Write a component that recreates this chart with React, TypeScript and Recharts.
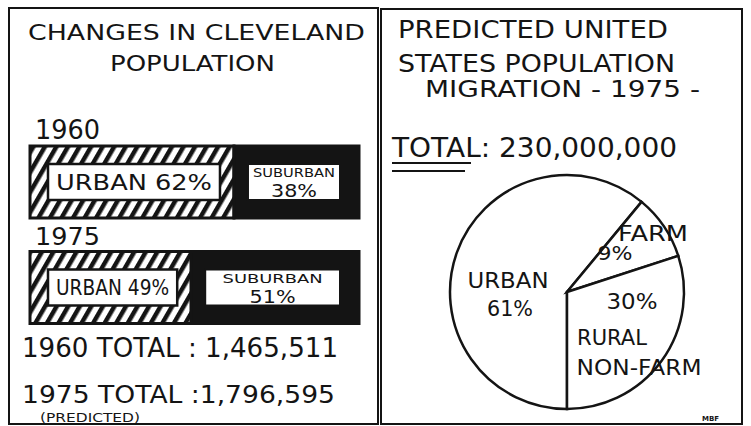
import { BarChart, Bar, XAxis, YAxis, LabelList, PieChart, Pie } from "recharts";

// Cleveland, share of population by area (%)
const years = ["1960", "1975"];
const urbanShare = [62, 49];
const suburbanShare = [38, 51];
const cityTotals = ["1,465,511", "1,796,595"];

// United States, predicted 1975 (%)
const usGroups = ["URBAN", "FARM", "RURAL NON-FARM"];
const usShares = [61, 9, 30];
const usTotal = "230,000,000";

const barData = years.map((year, i) => ({
  year,
  urban: urbanShare[i],
  suburban: suburbanShare[i],
}));
const pieData = usGroups.map((name, i) => ({ name, value: usShares[i] }));

const FONT = "'DejaVu Sans', sans-serif";
const INK = "#141414";

function UrbanLabel(props: any) {
  const { x, y, width, height, value } = props;
  const i = years.indexOf(String(value));
  const bx = x + 18;
  const by = y + 18;
  const bw = width - 32;
  const bh = height - 36;
  return (
    <g>
      <text x={x + 5} y={y - 7} fontSize={i === 0 ? 27 : 25} fontFamily={FONT} fill={INK}
        textLength={65} lengthAdjust="spacingAndGlyphs">
        {years[i]}
      </text>
      <rect x={bx} y={by} width={bw} height={bh} fill="#fff" stroke={INK} strokeWidth={2.5} />
      <text x={bx + bw / 2} y={by + bh / 2 + 7.5} textAnchor="middle" fontSize={21}
        fontFamily={FONT} fill={INK} textLength={bw - 16} lengthAdjust="spacingAndGlyphs">
        {`URBAN ${urbanShare[i]}%`}
      </text>
    </g>
  );
}

function SuburbanLabel(props: any) {
  const { x, y, width, height, value } = props;
  const i = years.indexOf(String(value));
  const bx = x + 14;
  const by = y + 18;
  const bw = width - 33;
  const bh = height - 36;
  return (
    <g>
      <rect x={bx} y={by} width={bw} height={bh} fill="#fff" stroke={INK} strokeWidth={2} />
      <text x={bx + bw / 2} y={by + 13} textAnchor="middle" fontSize={13} fontFamily={FONT}
        fill={INK} textLength={Math.min(bw - 10, 100)} lengthAdjust="spacingAndGlyphs">
        SUBURBAN
      </text>
      <text x={bx + bw / 2} y={by + bh - 3} textAnchor="middle" fontSize={18} fontFamily={FONT}
        fill={INK} textLength={46} lengthAdjust="spacingAndGlyphs">
        {`${suburbanShare[i]}%`}
      </text>
    </g>
  );
}

// label placement inside each slice, relative to the pie centre
const sliceText: Record<string, { dx: number; dy: number; size: number; len: number }[]> = {
  URBAN: [
    { dx: -59, dy: -12, size: 22, len: 81 },
    { dx: -57, dy: 16, size: 22, len: 46 },
  ],
  FARM: [
    { dx: 86, dy: -59, size: 21, len: 70 },
    { dx: 48, dy: -39, size: 20, len: 35 },
  ],
  "RURAL NON-FARM": [
    { dx: 65, dy: 9, size: 22, len: 51 },
    { dx: 45, dy: 45, size: 21, len: 70 },
    { dx: 72, dy: 75, size: 21, len: 125 },
  ],
};

function PieLabel(props: any) {
  const { cx, cy, name, value } = props;
  const parts = String(name).split(" ");
  const lines = parts.length > 1 ? [`${value}%`, ...parts] : [parts[0], `${value}%`];
  const place = sliceText[name] || [];
  return (
    <g>
      {lines.map((t, k) => {
        const p = place[k];
        if (!p) return null;
        return (
          <text key={k} x={cx + p.dx} y={cy + p.dy + p.size * 0.365} textAnchor="middle"
            fontSize={p.size} fontFamily={FONT} fill={INK} textLength={p.len}
            lengthAdjust="spacingAndGlyphs">
            {t}
          </text>
        );
      })}
    </g>
  );
}

const layer: React.CSSProperties = { position: "absolute", left: 0, top: 0 };

export default function App() {
  return (
    <div style={{ position: "absolute", left: 0, top: 0, width: 751, height: 426, background: "#fff", overflow: "hidden" }}>
      <svg width={751} height={426} style={layer}>
        <g fill="none" stroke={INK} strokeWidth={2}>
          <rect x={9} y={8} width={369} height={416} />
          <rect x={381} y={9} width={361} height={415} />
          <line x1={392} y1={163} x2={471} y2={163} />
          <line x1={392} y1={171} x2={465} y2={171} />
        </g>
        <g fontFamily={FONT} fill={INK}>
          <text x={28} y={40} fontSize={21} textLength={337} lengthAdjust="spacingAndGlyphs">CHANGES IN CLEVELAND</text>
          <text x={110} y={71} fontSize={22} textLength={165} lengthAdjust="spacingAndGlyphs">POPULATION</text>
          <text x={22} y={357} fontSize={27} textLength={316} lengthAdjust="spacingAndGlyphs">{`${years[0]} TOTAL : ${cityTotals[0]}`}</text>
          <text x={22} y={403} fontSize={25} textLength={313} lengthAdjust="spacingAndGlyphs">{`${years[1]} TOTAL :${cityTotals[1]}`}</text>
          <text x={40} y={422} fontSize={12} textLength={100} lengthAdjust="spacingAndGlyphs">(PREDICTED)</text>

          <text x={398} y={38} fontSize={24} textLength={270} lengthAdjust="spacingAndGlyphs">PREDICTED UNITED</text>
          <text x={398} y={72} fontSize={24} textLength={277} lengthAdjust="spacingAndGlyphs">STATES POPULATION</text>
          <text x={425} y={97} fontSize={23} textLength={275} lengthAdjust="spacingAndGlyphs">MIGRATION - 1975 -</text>
          <text x={392} y={157} fontSize={26} textLength={285} lengthAdjust="spacingAndGlyphs">{`TOTAL: ${usTotal}`}</text>
          <text x={702} y={421} fontSize={7} fontWeight="bold">MBF</text>
        </g>
      </svg>

      <div style={layer}>
        <BarChart width={751} height={426} data={barData} layout="vertical" barSize={72}
          margin={{ top: 129, right: 392, bottom: 86, left: 30 }}>
          <defs>
            <pattern id="hatch" width={10} height={10} patternUnits="userSpaceOnUse" patternTransform="rotate(30)">
              <rect width={10} height={10} fill="#fff" />
              <rect width={4.5} height={10} fill={INK} />
            </pattern>
          </defs>
          <XAxis type="number" domain={[0, 100]} hide />
          <YAxis type="category" dataKey="year" hide width={0} />
          <Bar dataKey="urban" stackId="a" fill="url(#hatch)" stroke={INK} strokeWidth={3} isAnimationActive={false}>
            <LabelList dataKey="year" content={UrbanLabel} />
          </Bar>
          <Bar dataKey="suburban" stackId="a" fill={INK} stroke={INK} strokeWidth={3} isAnimationActive={false}>
            <LabelList dataKey="year" content={SuburbanLabel} />
          </Bar>
        </BarChart>
      </div>

      <div style={layer}>
        <PieChart width={751} height={426}>
          <Pie data={pieData} dataKey="value" nameKey="name" cx={562} cy={287} outerRadius={117}
            startAngle={270} endAngle={-90} fill="#fff" stroke={INK} strokeWidth={2.5}
            label={PieLabel} labelLine={false} isAnimationActive={false} />
        </PieChart>
      </div>
    </div>
  );
}
